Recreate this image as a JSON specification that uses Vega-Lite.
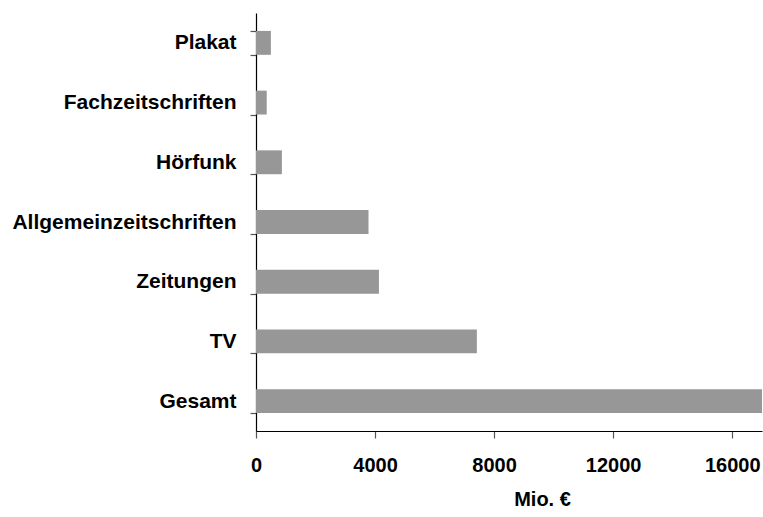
{
  "$schema": "https://vega.github.io/schema/vega-lite/v6.json",
  "autosize": "none",
  "padding": {"left": 256, "top": 13, "right": 1, "bottom": 86},
  "width": 506,
  "height": 418,
  "background": "white",
  "config": {"view": {"stroke": null}, "font": "Liberation Sans"},
  "data": {"values": [
    {"Medium": "Plakat", "Wert": 500},
    {"Medium": "Fachzeitschriften", "Wert": 360},
    {"Medium": "Hörfunk", "Wert": 870},
    {"Medium": "Allgemeinzeitschriften", "Wert": 3780},
    {"Medium": "Zeitungen", "Wert": 4130},
    {"Medium": "TV", "Wert": 7420},
    {"Medium": "Gesamt", "Wert": 17000}
  ]},
  "mark": {"type": "bar", "color": "#979797", "clip": true},
  "encoding": {
    "y": {
      "field": "Medium", "type": "nominal", "sort": null,
      "scale": {"paddingInner": 0.6, "paddingOuter": 0.3},
      "axis": {
        "title": null, "domainColor": "#000000", "domainWidth": 1.2,
        "tickBand": "extent", "tickSize": 6, "tickColor": "#555555", "tickWidth": 1.2,
        "labelFont": "Liberation Sans", "labelFontWeight": "bold", "labelFontSize": 21,
        "labelColor": "#000000", "labelPadding": 14, "labelLimit": 400
      }
    },
    "x": {
      "field": "Wert", "type": "quantitative",
      "scale": {"domain": [0, 17000], "nice": false},
      "axis": {
        "title": "Mio. €", "values": [0, 4000, 8000, 12000, 16000], "grid": false,
        "format": "d", "domainColor": "#000000", "domainWidth": 1.2,
        "tickSize": 7, "tickColor": "#555555", "tickWidth": 1.2,
        "labelFont": "Liberation Sans", "labelFontWeight": "bold", "labelFontSize": 20,
        "labelColor": "#000000", "labelPadding": 17, "labelFlush": false,
        "titleFont": "Liberation Sans", "titleFontWeight": "bold", "titleFontSize": 20,
        "titleColor": "#000000", "titleX": 286, "titlePadding": 14
      }
    }
  }
}
